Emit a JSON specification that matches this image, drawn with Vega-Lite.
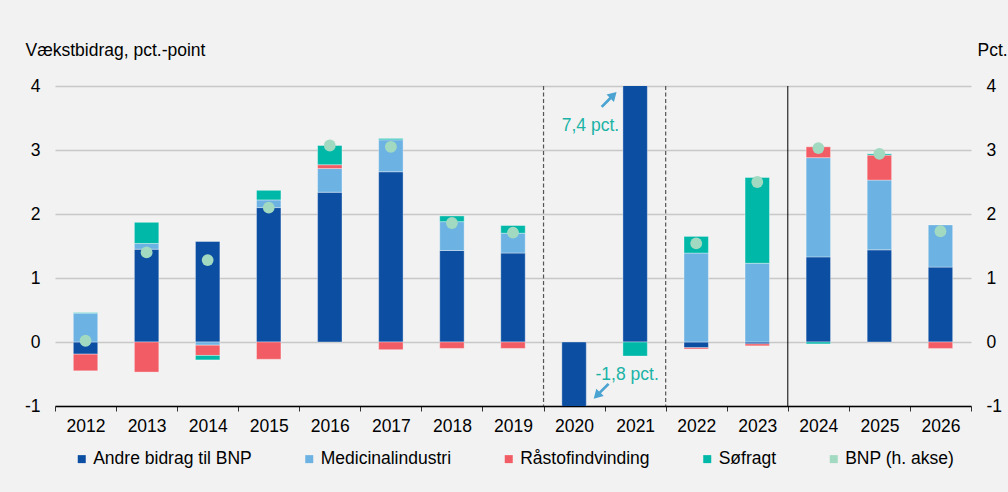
{
  "$schema": "https://vega.github.io/schema/vega-lite/v6.json",
  "width": 916,
  "height": 320,
  "autosize": "none",
  "padding": {"left": 55, "top": 86, "right": 37, "bottom": 86},
  "background": "#f2f2f2",
  "config": {
    "font": "Liberation Sans",
    "view": {"stroke": null},
    "axis": {"labelColor": "#000", "titleColor": "#000", "labelFontSize": 17.5, "titleFontSize": 17.5, "titleFontWeight": "normal", "labelFont": "Liberation Sans", "titleFont": "Liberation Sans"},
    "legend": {"labelColor": "#000", "labelFont": "Liberation Sans"}
  },
  "datasets": {
    "bars": [
      {"year": "2012", "series": "Andre bidrag til BNP", "value": -0.19},
      {"year": "2012", "series": "Medicinalindustri", "value": 0.45},
      {"year": "2012", "series": "Råstofindvinding", "value": -0.26},
      {"year": "2012", "series": "Søfragt", "value": 0.01},
      {"year": "2013", "series": "Andre bidrag til BNP", "value": 1.45},
      {"year": "2013", "series": "Medicinalindustri", "value": 0.09},
      {"year": "2013", "series": "Råstofindvinding", "value": -0.47},
      {"year": "2013", "series": "Søfragt", "value": 0.33},
      {"year": "2014", "series": "Andre bidrag til BNP", "value": 1.57},
      {"year": "2014", "series": "Medicinalindustri", "value": -0.05},
      {"year": "2014", "series": "Råstofindvinding", "value": -0.16},
      {"year": "2014", "series": "Søfragt", "value": -0.07},
      {"year": "2015", "series": "Andre bidrag til BNP", "value": 2.10},
      {"year": "2015", "series": "Medicinalindustri", "value": 0.12},
      {"year": "2015", "series": "Råstofindvinding", "value": -0.27},
      {"year": "2015", "series": "Søfragt", "value": 0.15},
      {"year": "2016", "series": "Andre bidrag til BNP", "value": 2.34},
      {"year": "2016", "series": "Medicinalindustri", "value": 0.37},
      {"year": "2016", "series": "Råstofindvinding", "value": 0.06},
      {"year": "2016", "series": "Søfragt", "value": 0.30},
      {"year": "2017", "series": "Andre bidrag til BNP", "value": 2.66},
      {"year": "2017", "series": "Medicinalindustri", "value": 0.50},
      {"year": "2017", "series": "Råstofindvinding", "value": -0.12},
      {"year": "2017", "series": "Søfragt", "value": 0.02},
      {"year": "2018", "series": "Andre bidrag til BNP", "value": 1.43},
      {"year": "2018", "series": "Medicinalindustri", "value": 0.45},
      {"year": "2018", "series": "Råstofindvinding", "value": -0.10},
      {"year": "2018", "series": "Søfragt", "value": 0.09},
      {"year": "2019", "series": "Andre bidrag til BNP", "value": 1.39},
      {"year": "2019", "series": "Medicinalindustri", "value": 0.31},
      {"year": "2019", "series": "Råstofindvinding", "value": -0.10},
      {"year": "2019", "series": "Søfragt", "value": 0.12},
      {"year": "2020", "series": "Andre bidrag til BNP", "value": -1.8},
      {"year": "2021", "series": "Andre bidrag til BNP", "value": 7.6},
      {"year": "2021", "series": "Søfragt", "value": -0.22},
      {"year": "2022", "series": "Andre bidrag til BNP", "value": -0.09},
      {"year": "2022", "series": "Medicinalindustri", "value": 1.39},
      {"year": "2022", "series": "Råstofindvinding", "value": -0.02},
      {"year": "2022", "series": "Søfragt", "value": 0.26},
      {"year": "2023", "series": "Andre bidrag til BNP", "value": -0.03},
      {"year": "2023", "series": "Medicinalindustri", "value": 1.23},
      {"year": "2023", "series": "Råstofindvinding", "value": -0.03},
      {"year": "2023", "series": "Søfragt", "value": 1.34},
      {"year": "2024", "series": "Andre bidrag til BNP", "value": 1.33},
      {"year": "2024", "series": "Medicinalindustri", "value": 1.55},
      {"year": "2024", "series": "Råstofindvinding", "value": 0.17},
      {"year": "2024", "series": "Søfragt", "value": -0.03},
      {"year": "2025", "series": "Andre bidrag til BNP", "value": 1.44},
      {"year": "2025", "series": "Medicinalindustri", "value": 1.09},
      {"year": "2025", "series": "Råstofindvinding", "value": 0.39},
      {"year": "2025", "series": "Søfragt", "value": 0.02},
      {"year": "2026", "series": "Andre bidrag til BNP", "value": 1.17},
      {"year": "2026", "series": "Medicinalindustri", "value": 0.66},
      {"year": "2026", "series": "Råstofindvinding", "value": -0.10}
    ],
    "bnp": [
      {"year": "2012", "series": "BNP (h. akse)", "value": 0.02},
      {"year": "2013", "series": "BNP (h. akse)", "value": 1.40},
      {"year": "2014", "series": "BNP (h. akse)", "value": 1.28},
      {"year": "2015", "series": "BNP (h. akse)", "value": 2.10},
      {"year": "2016", "series": "BNP (h. akse)", "value": 3.07},
      {"year": "2017", "series": "BNP (h. akse)", "value": 3.05},
      {"year": "2018", "series": "BNP (h. akse)", "value": 1.86},
      {"year": "2019", "series": "BNP (h. akse)", "value": 1.71},
      {"year": "2020", "series": "BNP (h. akse)", "value": -1.8},
      {"year": "2021", "series": "BNP (h. akse)", "value": 7.4},
      {"year": "2022", "series": "BNP (h. akse)", "value": 1.54},
      {"year": "2023", "series": "BNP (h. akse)", "value": 2.50},
      {"year": "2024", "series": "BNP (h. akse)", "value": 3.03},
      {"year": "2025", "series": "BNP (h. akse)", "value": 2.94},
      {"year": "2026", "series": "BNP (h. akse)", "value": 1.73}
    ]
  },
  "layer": [
    {
      "layer": [
        {
          "data": {"name": "bars"},
          "mark": {"type": "bar", "width": {"band": 0.4}, "clip": true, "stroke": "#ffffff", "strokeWidth": 0.8, "strokeOpacity": 0.45},
          "encoding": {
            "x": {
              "field": "year", "type": "ordinal", "title": null,
              "scale": {"domain": ["2012","2013","2014","2015","2016","2017","2018","2019","2020","2021","2022","2023","2024","2025","2026"], "paddingInner": 0, "paddingOuter": 0},
              "axis": {"labelAngle": 0, "tickBand": "extent", "domainColor": "#000", "domainWidth": 1.5, "tickColor": "#333", "tickSize": 5, "tickWidth": 1, "labelPadding": 6, "grid": false}
            },
            "y": {
              "field": "value", "type": "quantitative", "stack": "zero",
              "scale": {"domain": [-1, 4], "nice": false, "zero": false},
              "axis": {
                "values": [-1, 0, 1, 2, 3, 4], "grid": true, "gridColor": "#c8c8c8", "gridWidth": 1.5,
                "domain": false, "ticks": false, "labelPadding": 15, "labelExpr": "'' + datum.value",
                "title": "Vækstbidrag, pct.-point", "titleAngle": 0, "titleAlign": "left", "titleBaseline": "alphabetic", "titleX": -30, "titleY": -31
              }
            },
            "color": {
              "field": "series", "type": "nominal",
              "sort": ["Andre bidrag til BNP", "Medicinalindustri", "Råstofindvinding", "Søfragt", "BNP (h. akse)"],
              "scale": {
                "domain": ["Andre bidrag til BNP", "Medicinalindustri", "Råstofindvinding", "Søfragt", "BNP (h. akse)"],
                "range": ["#0b4ea2", "#6cb2e2", "#f25c64", "#00b8a8", "#a2d9c1"]
              },
              "legend": {
                "orient": "none", "legendX": 18, "legendY": 364, "direction": "horizontal", "columns": 5,
                "title": null, "symbolType": "square", "symbolSize": 64, "symbolStrokeWidth": 0,
                "labelFontSize": 17.5, "labelOffset": 2.7, "columnPadding": 48.5, "labelLimit": 400,
                "encode": {"symbols": {"update": {
                  "shape": {"signal": "datum.value === 'BNP (h. akse)' ? 'circle' : 'square'"},
                  "size": {"signal": "datum.value === 'BNP (h. akse)' ? 115 : 64"},
                  "strokeWidth": {"value": 0}
                }}}
              }
            },
            "order": {"field": "series", "sort": "ascending"}
          }
        },
        {
          "mark": {"type": "rule", "color": "#000", "strokeWidth": 1.5},
          "encoding": {"y": {"datum": 0}}
        },
        {
          "data": {"values": [{"year": "2020"}, {"year": "2022"}]},
          "mark": {"type": "rule", "color": "#555", "strokeWidth": 1.2, "strokeDash": [4, 2.5]},
          "encoding": {"x": {"field": "year", "type": "ordinal", "bandPosition": 0, "title": null}}
        },
        {
          "data": {"values": [{"year": "2024"}]},
          "mark": {"type": "rule", "color": "#000", "strokeWidth": 1},
          "encoding": {"x": {"field": "year", "type": "ordinal", "bandPosition": 0, "title": null}}
        },
        {
          "data": {"values": [{"year": "2021", "label": "7,4 pct."}]},
          "mark": {"type": "text", "align": "right", "baseline": "alphabetic", "dx": -16, "fontSize": 17.5, "color": "#1ab3a6", "font": "Liberation Sans"},
          "encoding": {"x": {"field": "year", "type": "ordinal", "title": null}, "y": {"datum": 3.29}, "text": {"field": "label"}}
        },
        {
          "data": {"values": [{"year": "2021", "label": "-1,8 pct."}]},
          "mark": {"type": "text", "align": "center", "baseline": "alphabetic", "dx": -8, "fontSize": 17.5, "color": "#1ab3a6", "font": "Liberation Sans"},
          "encoding": {"x": {"field": "year", "type": "ordinal", "title": null}, "y": {"datum": -0.594}, "text": {"field": "label"}}
        },
        {
          "data": {"values": [{"year": "2021"}]},
          "mark": {"type": "point", "shape": "M-0.13,1L0.13,1L0.13,-0.15L0.5,-0.15L0,-1L-0.5,-0.15L-0.13,-0.15Z", "angle": 45, "size": 441, "filled": true, "opacity": 1, "color": "#4aa3d1", "xOffset": -26, "strokeWidth": 0},
          "encoding": {"x": {"field": "year", "type": "ordinal", "title": null}, "y": {"datum": 3.79}}
        },
        {
          "data": {"values": [{"year": "2021"}]},
          "mark": {"type": "point", "shape": "M-0.13,1L0.13,1L0.13,-0.15L0.5,-0.15L0,-1L-0.5,-0.15L-0.13,-0.15Z", "angle": 225, "size": 441, "filled": true, "opacity": 1, "color": "#4aa3d1", "xOffset": -34, "strokeWidth": 0},
          "encoding": {"x": {"field": "year", "type": "ordinal", "title": null}, "y": {"datum": -0.77}}
        }
      ]
    },
    {
      "data": {"name": "bnp"},
      "mark": {"type": "point", "filled": true, "size": 140, "opacity": 1, "clip": true, "strokeWidth": 0},
      "encoding": {
        "x": {"field": "year", "type": "ordinal", "title": null},
        "y": {
          "field": "value", "type": "quantitative",
          "scale": {"domain": [-1, 4], "nice": false, "zero": false},
          "axis": {
            "orient": "right", "values": [-1, 0, 1, 2, 3, 4], "grid": false, "domain": false, "ticks": false,
            "labelPadding": 15, "labelExpr": "'' + datum.value",
            "title": "Pct.", "titleAngle": 0, "titleAlign": "left", "titleBaseline": "alphabetic", "titleX": 6, "titleY": -31
          }
        },
        "color": {"field": "series", "type": "nominal"}
      }
    }
  ],
  "resolve": {"scale": {"y": "independent"}}
}
